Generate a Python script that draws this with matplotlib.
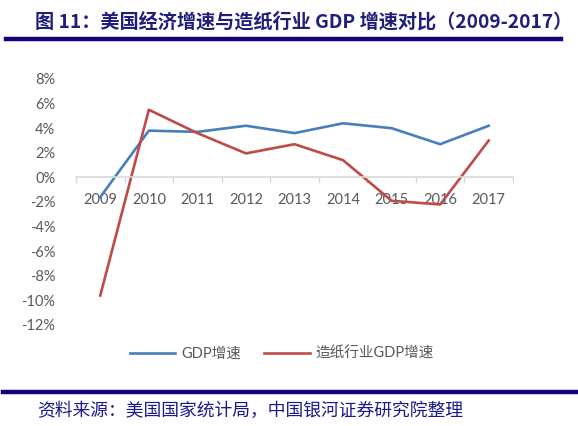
import matplotlib
matplotlib.use('Agg')
import matplotlib.pyplot as plt
from matplotlib.lines import Line2D
from matplotlib.ticker import FuncFormatter, FixedLocator

years = ['2009', '2010', '2011', '2012', '2013', '2014', '2015', '2016', '2017']
gdp_growth = [-1.6, 3.8, 3.7, 4.2, 3.6, 4.4, 4.0, 2.7, 4.2]
paper_growth = [-9.6, 5.5, 3.6, 1.95, 2.7, 1.4, -1.9, -2.2, 3.0]

title = '图 11：美国经济增速与造纸行业 GDP 增速对比（2009-2017）'
source = '资料来源：美国国家统计局，中国银河证券研究院整理'

W, H = 578, 426
fig = plt.figure(figsize=(W / 100, H / 100), dpi=100)
ax = fig.add_axes([76 / W, 1 - 325 / H, (513 - 76) / W, (325 - 79) / H])

x = list(range(len(years)))
ax.plot(x, gdp_growth, color='#4A7EBB', lw=1.9, label='GDP增速')
ax.plot(x, paper_growth, color='#BE4B48', lw=1.9, label='造纸行业GDP增速')

ax.set_xlim(-0.5, len(years) - 0.5)
ax.set_ylim(-12, 8)
ax.set_yticks(range(-12, 9, 2))
ax.yaxis.set_major_formatter(FuncFormatter(lambda v, p: '{:d}%'.format(int(round(v)))))
ax.set_xticks(x)
ax.set_xticklabels(years)
ax.xaxis.set_minor_locator(FixedLocator([i - 0.5 for i in range(len(years) + 1)]))

for s in ['top', 'right', 'left']:
    ax.spines[s].set_visible(False)
ax.spines['bottom'].set_position(('data', 0))
ax.spines['bottom'].set_color('#d9d9d9')
ax.spines['bottom'].set_linewidth(1.2)

ax.tick_params(axis='x', which='major', length=0, pad=11, labelsize=10.5, labelcolor='#595959')
ax.tick_params(axis='x', which='minor', length=4, width=1.0, color='#d9d9d9', direction='out')
ax.tick_params(axis='y', length=0, pad=15, labelsize=10.5, labelcolor='#595959')
for lab in ax.get_xticklabels() + ax.get_yticklabels():
    lab.set_family(['Lato', 'DejaVu Sans'])

leg = fig.legend(loc='center', bbox_to_anchor=(282 / W, 1 - 354 / H), ncol=2,
                 frameon=False, handlelength=3.1, columnspacing=1.6, handletextpad=0.4,
                 prop={'family': ['Lato', 'Noto Sans CJK SC'], 'size': 10.5})
for t in leg.get_texts():
    t.set_color('#595959')

# title, rules and source note
fig.text(35 / W, 1 - 22 / H, title, fontsize=13.8, fontweight='bold', color='#1f1f7a',
         family=['Noto Sans CJK SC', 'DejaVu Sans'], va='center', ha='left')
fig.add_artist(Line2D([5.5 / W, 561 / W], [1 - 39 / H, 1 - 39 / H], color='#17007a', lw=3.2))
fig.add_artist(Line2D([3 / W, 1.0], [1 - 392 / H, 1 - 392 / H], color='#17007a', lw=3.2))
fig.text(37 / W, 1 - 411 / H, source, fontsize=12.8, color='#1a1a8c',
         family=['Noto Sans CJK SC', 'DejaVu Sans'], va='center', ha='left')

fig.savefig('out.png', dpi=100)
